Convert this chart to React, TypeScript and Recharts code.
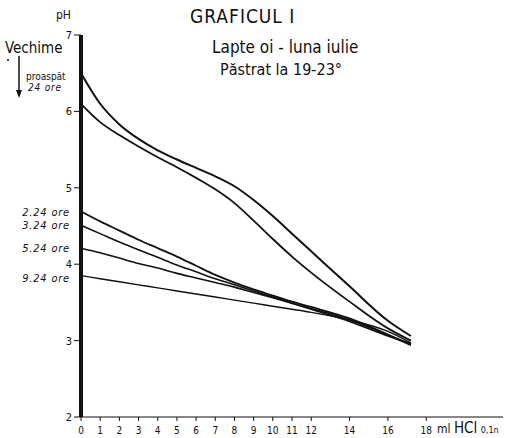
import { LineChart, Line, XAxis, YAxis } from "recharts";

// ml HCl 0,1n added
const ml = [0, 1, 2, 3, 4, 5, 6, 7, 8, 9, 10, 11, 12, 14, 16, 17.2];

// pH per milk age
const proaspat = [6.5, 6.1, 5.83, 5.64, 5.49, 5.37, 5.26, 5.15, 5.02, 4.84, 4.63, 4.4, 4.17, 3.71, 3.26, 3.06];
const ore24 = [6.1, 5.86, 5.69, 5.54, 5.4, 5.27, 5.13, 4.98, 4.8, 4.57, 4.33, 4.1, 3.89, 3.51, 3.16, 3.0];
const ore224 = [4.69, 4.56, 4.44, 4.32, 4.21, 4.1, 3.98, 3.86, 3.76, 3.67, 3.59, 3.51, 3.44, 3.29, 3.08, 2.95];
const ore324 = [4.51, 4.4, 4.29, 4.19, 4.09, 3.99, 3.9, 3.81, 3.73, 3.65, 3.57, 3.49, 3.41, 3.25, 3.06, 2.96];
const ore524 = [4.21, 4.15, 4.08, 4.01, 3.95, 3.88, 3.82, 3.76, 3.7, 3.63, 3.56, 3.49, 3.42, 3.27, 3.07, 2.94];
const ore924 = [3.85, 3.81, 3.77, 3.73, 3.69, 3.65, 3.61, 3.57, 3.53, 3.49, 3.45, 3.41, 3.37, 3.27, 3.12, 2.97];

const xTicks = [0, 1, 2, 3, 4, 5, 6, 7, 8, 9, 10, 11, 12, 14, 16, 18];
const yTicks = [2, 3, 4, 5, 6, 7];

const data = ml.map((x, i) => ({
  ml: x,
  a: proaspat[i],
  b: ore24[i],
  c: ore224[i],
  d: ore324[i],
  e: ore524[i],
  f: ore924[i],
}));

const font = "'DejaVu Sans Condensed', 'Liberation Sans Narrow', sans-serif";

const txt = (style: React.CSSProperties): React.CSSProperties => ({
  position: "absolute",
  fontFamily: font,
  lineHeight: 1,
  color: "#111",
  whiteSpace: "nowrap",
  ...style,
});

const ageLabel = (text: string, y: number) => (
  <div
    key={text}
    style={txt({ right: 436, top: y - 5, fontSize: 11, fontStyle: "italic", letterSpacing: 0.8 })}
  >
    {text}
  </div>
);

export default function App() {
  return (
    <div style={{ position: "absolute", left: 0, top: 0, width: 506, height: 438, background: "#fff" }}>
      <LineChart
        width={506}
        height={438}
        data={data}
        margin={{ top: 35, right: 3, bottom: 0, left: 0 }}
      >
        <XAxis
          type="number"
          dataKey="ml"
          domain={[0, 22]}
          ticks={xTicks}
          interval={0}
          height={21}
          tickSize={4}
          tickMargin={6}
          stroke="#111"
          tick={{ fill: "#111", fontSize: 10, fontFamily: font }}
        />
        <YAxis
          type="number"
          domain={[2, 7]}
          ticks={yTicks}
          interval={0}
          width={81}
          tickSize={7}
          tickMargin={2}
          axisLine={{ stroke: "#111", strokeWidth: 4 }}
          tickLine={{ stroke: "#111" }}
          tick={{ fill: "#111", fontSize: 11, fontFamily: font }}
        />
        <Line dataKey="a" type="monotone" stroke="#111" strokeWidth={2} dot={false} isAnimationActive={false} />
        <Line dataKey="b" type="monotone" stroke="#111" strokeWidth={1.8} dot={false} isAnimationActive={false} />
        <Line dataKey="c" type="monotone" stroke="#111" strokeWidth={1.8} dot={false} isAnimationActive={false} />
        <Line dataKey="d" type="monotone" stroke="#111" strokeWidth={1.6} dot={false} isAnimationActive={false} />
        <Line dataKey="e" type="monotone" stroke="#111" strokeWidth={1.6} dot={false} isAnimationActive={false} />
        <Line dataKey="f" type="monotone" stroke="#111" strokeWidth={1.4} dot={false} isAnimationActive={false} />
      </LineChart>

      <div style={txt({ left: 190, top: 7, fontSize: 19, letterSpacing: 1 })}>GRAFICUL I</div>
      <div style={txt({ left: 212, top: 39, fontSize: 17 })}>Lapte oi - luna iulie</div>
      <div style={txt({ left: 220, top: 62, fontSize: 16 })}>Păstrat la 19-23°</div>

      <div style={txt({ left: 56, top: 9, fontSize: 12 })}>pH</div>
      <div style={txt({ left: 5, top: 41, fontSize: 15 })}>Vechime</div>
      <div style={txt({ left: 26, top: 72, fontSize: 10 })}>proaspăt</div>
      <div style={txt({ left: 28, top: 83, fontSize: 10, fontStyle: "italic", letterSpacing: 0.8 })}>24 ore</div>
      {ageLabel("2.24 ore", 212)}
      {ageLabel("3.24 ore", 225)}
      {ageLabel("5.24 ore", 248)}
      {ageLabel("9.24 ore", 278)}

      <svg style={{ position: "absolute", left: 0, top: 0 }} width={506} height={438}>
        <line x1={19} y1={56} x2={19} y2={94} stroke="#111" strokeWidth={1.5} />
        <path d="M16,90 L19,98 L22,90 Z" fill="#111" />
        <circle cx={8} cy={60} r={1} fill="#111" />
      </svg>

      <div style={txt({ left: 437, top: 421, fontSize: 12 })}>
        ml <span style={{ fontSize: 15 }}>HCl</span> <span style={{ fontSize: 9 }}>0,1n</span>
      </div>
    </div>
  );
}
